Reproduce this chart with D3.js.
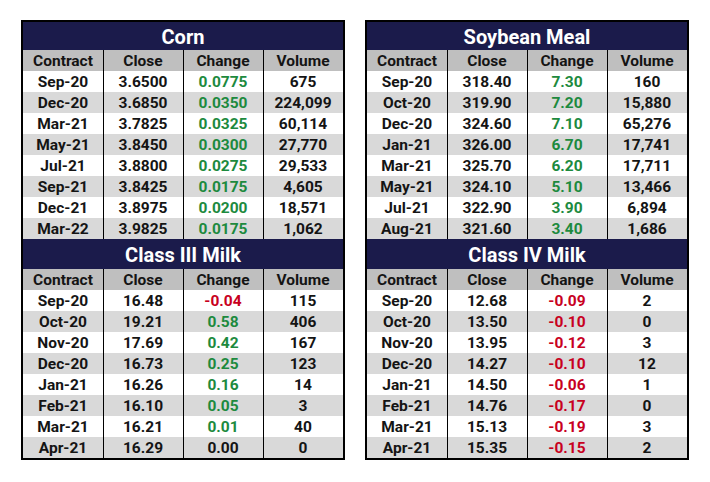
<!DOCTYPE html>
<html>
<head>
<meta charset="utf-8">
<script src="https://cdn.jsdelivr.net/npm/d3@7"></script>
<style>
  body { margin: 0; background: #fff; }
  svg text { font-family: Roboto, "Noto Sans", sans-serif; font-weight: 700; }
</style>
</head>
<body>
<div id="chart"></div>
<script>
// column headers shared by all four panels
var columns = ["Contract", "Close", "Change", "Volume"]

// Corn
var cornContracts = ["Sep-20","Dec-20","Mar-21","May-21","Jul-21","Sep-21","Dec-21","Mar-22"]
var cornClose = ["3.6500","3.6850","3.7825","3.8450","3.8800","3.8425","3.8975","3.9825"]
var cornChange = ["0.0775","0.0350","0.0325","0.0300","0.0275","0.0175","0.0200","0.0175"]
var cornVolume = ["675","224,099","60,114","27,770","29,533","4,605","18,571","1,062"]

// Soybean Meal
var mealContracts = ["Sep-20","Oct-20","Dec-20","Jan-21","Mar-21","May-21","Jul-21","Aug-21"]
var mealClose = ["318.40","319.90","324.60","326.00","325.70","324.10","322.90","321.60"]
var mealChange = ["7.30","7.20","7.10","6.70","6.20","5.10","3.90","3.40"]
var mealVolume = ["160","15,880","65,276","17,741","17,711","13,466","6,894","1,686"]

// Class III Milk
var milk3Contracts = ["Sep-20","Oct-20","Nov-20","Dec-20","Jan-21","Feb-21","Mar-21","Apr-21"]
var milk3Close = ["16.48","19.21","17.69","16.73","16.26","16.10","16.21","16.29"]
var milk3Change = ["-0.04","0.58","0.42","0.25","0.16","0.05","0.01","0.00"]
var milk3Volume = ["115","406","167","123","14","3","40","0"]

// Class IV Milk
var milk4Contracts = ["Sep-20","Oct-20","Nov-20","Dec-20","Jan-21","Feb-21","Mar-21","Apr-21"]
var milk4Close = ["12.68","13.50","13.95","14.27","14.50","14.76","15.13","15.35"]
var milk4Change = ["-0.09","-0.10","-0.12","-0.10","-0.06","-0.17","-0.19","-0.15"]
var milk4Volume = ["2","0","3","12","1","0","3","2"]

var titleColor = "#1b1b4b"
var headColor = "#bfbfbf"
var stripeColor = "#d9d9d9"
var upColor = "#1d8a3e"
var downColor = "#c8001e"
var inkColor = "#141414"

var width = 710, height = 482
var titleH = 28, headH = 21, rowH = 21

var svg = d3.select("#chart").append("svg")
  .attr("width", width)
  .attr("height", height)

// one panel = title bar + header row + 8 data rows
function drawPanel(x0, x1, y0, tHeight, title, contracts, close, change, volume){
  var rows = contracts.map(function(c, i){
    return [c, close[i], change[i], volume[i]]
  })

  var x = d3.scaleBand().domain(columns).range([x0, x1])
  var yTop = y0 + tHeight + headH
  var y = d3.scaleBand().domain(d3.range(rows.length)).range([yTop, yTop + rows.length*rowH])

  var g = svg.append("g")

  // title bar
  g.append("rect")
    .attr("x", x0).attr("y", y0)
    .attr("width", x1 - x0).attr("height", tHeight)
    .style("fill", titleColor)
  g.append("text")
    .attr("x", (x0 + x1)/2)
    .attr("y", y0 + tHeight/2 + 0.5)
    .attr("dy", "0.36em")
    .attr("text-anchor", "middle")
    .style("font-size", "20px")
    .style("fill", "#fff")
    .text(title)

  // header row
  g.append("rect")
    .attr("x", x0).attr("y", y0 + tHeight)
    .attr("width", x1 - x0).attr("height", headH)
    .style("fill", headColor)
  g.selectAll(".head").data(columns).enter().append("text")
    .attr("x", function(d){ return x(d) + x.bandwidth()/2 })
    .attr("y", y0 + tHeight + headH/2)
    .attr("dy", "0.36em")
    .attr("text-anchor", "middle")
    .style("font-size", "15.5px")
    .style("fill", inkColor)
    .text(function(d){ return d })

  // striped body
  g.selectAll(".stripe").data(rows).enter().append("rect")
    .attr("x", x0)
    .attr("y", function(d, i){ return y(i) })
    .attr("width", x1 - x0)
    .attr("height", y.bandwidth())
    .style("fill", function(d, i){ return i % 2 ? stripeColor : "#fff" })

  // column dividers through header + body
  g.selectAll(".div").data(columns.slice(1)).enter().append("line")
    .attr("x1", function(d){ return x(d) + 0.5 })
    .attr("x2", function(d){ return x(d) + 0.5 })
    .attr("y1", y0 + tHeight)
    .attr("y2", yTop + rows.length*rowH)
    .style("stroke", "#000")
    .style("stroke-width", 1)

  // cells
  rows.forEach(function(r, i){
    g.selectAll(null).data(r).enter().append("text")
      .attr("x", function(d, j){ return x(columns[j]) + x.bandwidth()/2 })
      .attr("y", y(i) + y.bandwidth()/2)
      .attr("dy", "0.36em")
      .attr("text-anchor", "middle")
      .style("font-size", "15.5px")
      .style("fill", function(d, j){
        if (j != 2) return inkColor
        var v = +d
        return v > 0 ? upColor : (v < 0 ? downColor : inkColor)
      })
      .text(function(d){ return d })
  })

  return yTop + rows.length*rowH
}

function drawSide(x0, x1, topTitle, topData, botTitle, botData){
  var y0 = 22
  var mid = drawPanel(x0, x1, y0, titleH, topTitle, topData[0], topData[1], topData[2], topData[3])
  var end = drawPanel(x0, x1, mid, 30, botTitle, botData[0], botData[1], botData[2], botData[3])
  // outer frame
  svg.append("rect")
    .attr("x", x0 - 1).attr("y", y0 - 1)
    .attr("width", x1 - x0 + 2).attr("height", end - y0 + 2)
    .style("fill", "none")
    .style("stroke", "#000")
    .style("stroke-width", 2)
}

drawSide(23, 343, "Corn", [cornContracts, cornClose, cornChange, cornVolume],
  "Class III Milk", [milk3Contracts, milk3Close, milk3Change, milk3Volume])
drawSide(367, 687, "Soybean Meal", [mealContracts, mealClose, mealChange, mealVolume],
  "Class IV Milk", [milk4Contracts, milk4Close, milk4Change, milk4Volume])
</script>
</body>
</html>
